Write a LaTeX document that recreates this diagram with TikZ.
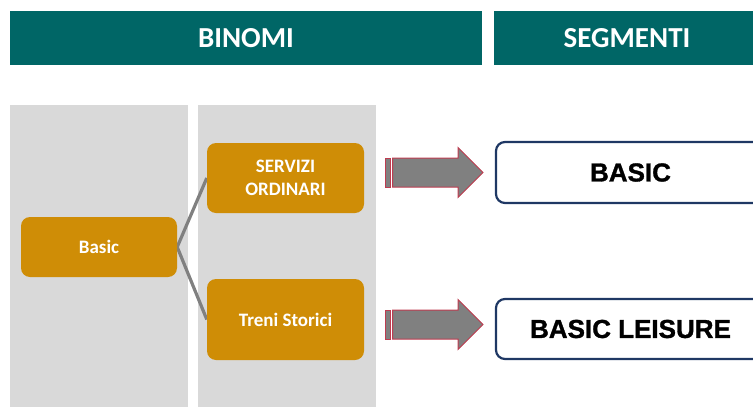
\documentclass[tikz,border=0pt]{standalone}
\usepackage{fontspec}
\setmainfont{Carlito}
\newfontfamily\segfont[BoldFeatures={FakeBold=1.2}]{Liberation Sans}
\definecolor{teal1}{RGB}{0,102,102}
\definecolor{gold1}{RGB}{207,141,6}
\definecolor{colgray}{RGB}{217,217,217}
\definecolor{arrgray}{RGB}{128,128,128}
\definecolor{arrred}{RGB}{190,60,80}
\definecolor{navy1}{RGB}{31,56,100}
\pgfdeclarelayer{bg}
\pgfdeclarelayer{conn}
\pgfsetlayers{bg,conn,main}
\tikzset{
  header/.style={fill=teal1, text=white, inner sep=0pt, font=\bfseries\fontsize{29}{32}\selectfont},
  goldbox/.style={fill=gold1, rounded corners=9pt, text=white, inner sep=0pt, align=center, font=\bfseries\fontsize{19}{23}\selectfont},
  segbox/.style={draw=navy1, line width=2.2pt, fill=white, rounded corners=9pt, inner sep=0pt, font=\segfont\bfseries\fontsize{26}{28}\selectfont},
  connector/.style={draw=arrgray, line width=3.2pt},
  arrowline/.style={draw=arrred, line width=1pt, fill=arrgray},
}
\begin{document}
\begin{tikzpicture}[x=1pt,y=-1pt]
\useasboundingbox (0,0) rectangle (753,407);
\clip (0,0) rectangle (753,407);
% headers
\node[header, minimum width=472pt, minimum height=54pt] (hbin) at (246,38) {BINOMI};
\node[header, minimum width=266pt, minimum height=54pt] (hseg) at (627,38) {SEGMENTI};
% gray columns
\begin{pgfonlayer}{bg}
\fill[colgray] (10,104.5) rectangle (188,420);
\fill[colgray] (198,104.5) rectangle (376,420);
\end{pgfonlayer}
% boxes
\node[goldbox, minimum width=156pt, minimum height=60pt] (basic) at (99,247) {Basic};
\node[goldbox, minimum width=157pt, minimum height=70pt] (serv) at (285.5,178) {SERVIZI\\ORDINARI};
\node[goldbox, minimum width=157pt, minimum height=81pt] (treni) at (285.5,319.5) {Treni Storici};
% connectors
\begin{pgfonlayer}{conn}
\draw[connector] (basic.east) -- (serv.west);
\draw[connector] (basic.east) -- (treni.west);
\end{pgfonlayer}
% segment boxes
\node[segbox, minimum width=269pt, minimum height=61pt] (sbasic) at (630.5,172.5) {BASIC};
\node[segbox, minimum width=269pt, minimum height=60pt] (sleis) at (630.5,329) {BASIC LEISURE};
% block arrows
\foreach \yy in {172.5,324.5} {
  \draw[arrowline] (385,\yy-14.5) rectangle (390,\yy+14.5);
  \draw[arrowline] (392.5,\yy-14.5) -- (458,\yy-14.5) -- (458,\yy-25) -- (483,\yy)
     -- (458,\yy+25) -- (458,\yy+14.5) -- (392.5,\yy+14.5) -- cycle;
}
\end{tikzpicture}
\end{document}
